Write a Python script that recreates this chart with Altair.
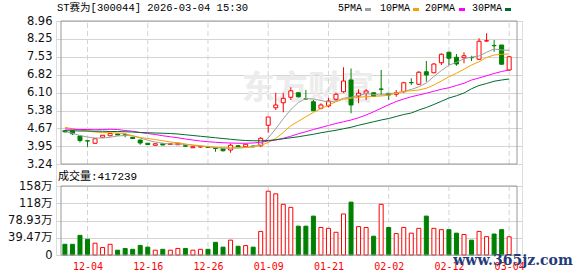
import altair as alt
import pandas as pd

# ---------------- data ----------------
dates = ["12-01", "12-02", "12-03", "12-04", "12-05", "12-08", "12-09", "12-10", "12-11", "12-12",
         "12-15", "12-16", "12-17", "12-18", "12-19", "12-22", "12-23", "12-24", "12-25", "12-26",
         "12-29", "12-30", "12-31", "01-05", "01-06", "01-07", "01-08", "01-09", "01-12", "01-13",
         "01-14", "01-15", "01-16", "01-19", "01-20", "01-21", "01-22", "01-23", "01-26", "01-27",
         "01-28", "01-29", "01-30", "02-02", "02-03", "02-04", "02-05", "02-06", "02-09", "02-10",
         "02-11", "02-12", "02-13", "02-24", "02-25", "02-26", "02-27", "03-02", "03-03", "03-04"]

opens = [4.57, 4.57, 4.36, 4.17, 4.07, 4.31, 4.37, 4.44, 4.41, 4.31,
         4.20, 4.07, 3.99, 4.05, 4.02, 4.01, 3.97, 3.89, 3.92, 3.92,
         3.89, 3.85, 3.80, 3.97, 3.93, 3.96, 3.97, 4.79, 5.49, 5.69,
         5.91, 6.09, 5.85, 5.73, 5.47, 5.56, 5.83, 6.13, 6.60, 5.96,
         6.07, 6.09, 6.24, 6.07, 6.03, 6.13, 6.50, 6.43, 6.93, 6.89,
         7.29, 7.71, 7.51, 7.49, 7.50, 7.43, 8.16, 7.98, 8.00, 7.00]
highs = [4.60, 4.58, 4.37, 4.17, 4.26, 4.40, 4.48, 4.45, 4.47, 4.32,
         4.21, 4.08, 4.06, 4.06, 4.06, 4.08, 3.98, 3.94, 3.95, 3.93,
         3.89, 3.86, 4.06, 3.99, 4.04, 3.97, 4.31, 5.13, 6.09, 6.09,
         6.31, 6.11, 6.20, 5.80, 5.67, 5.89, 6.09, 7.11, 7.06, 6.23,
         6.24, 6.10, 7.00, 6.08, 6.20, 6.53, 6.67, 6.96, 7.36, 7.27,
         7.67, 7.73, 7.64, 7.71, 7.57, 8.27, 8.47, 8.20, 8.00, 7.56]
lows = [4.50, 4.40, 4.10, 3.93, 4.05, 4.30, 4.35, 4.39, 4.31, 4.25,
        4.01, 4.00, 3.97, 3.99, 4.00, 4.00, 3.93, 3.88, 3.90, 3.88,
        3.73, 3.74, 3.69, 3.91, 3.92, 3.92, 3.92, 4.49, 5.40, 5.31,
        5.80, 5.90, 5.82, 5.37, 5.43, 5.51, 5.78, 6.09, 5.27, 5.67,
        5.80, 5.92, 6.00, 5.80, 5.93, 6.09, 6.40, 6.40, 6.53, 6.87,
        7.20, 7.20, 7.17, 7.27, 7.36, 7.40, 8.13, 7.73, 7.23, 6.97]
closes = [4.53, 4.45, 4.18, 4.16, 4.25, 4.39, 4.46, 4.40, 4.39, 4.26,
          4.08, 4.02, 4.05, 4.00, 4.05, 4.07, 3.95, 3.93, 3.93, 3.90,
          3.86, 3.77, 3.99, 3.94, 4.03, 3.93, 4.27, 5.12, 5.60, 5.87,
          6.17, 5.93, 5.84, 5.37, 5.60, 5.76, 6.03, 6.56, 5.60, 6.07,
          6.16, 5.95, 6.23, 6.00, 6.09, 6.49, 6.49, 6.91, 6.80, 7.24,
          7.63, 7.47, 7.24, 7.57, 7.49, 8.15, 8.17, 7.97, 7.23, 7.53]

# volume in 万
volumes = [24.5, 24.5, 45, 36, 27, 17, 24.5, 11, 15, 13,
           22, 18, 11, 13, 11, 15, 15, 11, 13, 13,
           29, 18, 34, 20, 21.5, 18, 54, 146, 140, 116,
           109, 66, 66, 89, 63, 61, 52, 94, 121, 65,
           63, 43, 116, 63, 49, 63, 50, 61, 89, 61,
           58, 58, 50, 47, 34, 54, 42, 48, 58, 41.72]
vol_dir = ["down", "down", "down", "down", "up", "up", "up", "down", "down", "down",
           "down", "down", "up", "down", "up", "up", "down", "up", "up", "down",
           "down", "down", "up", "down", "up", "down", "up", "up", "up", "up",
           "up", "down", "down", "down", "up", "up", "up", "up", "down", "up",
           "up", "down", "up", "down", "up", "up", "up", "up", "down", "up",
           "up", "down", "down", "up", "down", "up", "up", "down", "down", "up"]

ma5 = [4.53, 4.47, 4.38, 4.32, 4.28, 4.28, 4.31, 4.36, 4.38, 4.37,
       4.28, 4.19, 4.12, 4.07, 4.04, 4.04, 4.02, 3.99, 3.96, 3.93,
       3.90, 3.87, 3.87, 3.88, 3.90, 3.93, 4.04, 4.28, 4.65, 5.05,
       5.42, 5.70, 5.86, 5.84, 5.78, 5.72, 5.76, 5.87, 5.91, 5.98,
       6.06, 6.02, 6.00, 6.05, 6.08, 6.15, 6.22, 6.33, 6.48, 6.74,
       6.98, 7.19, 7.31, 7.45, 7.52, 7.56, 7.71, 7.84, 7.80, 7.79]
ma10 = [4.71, 4.65, 4.60, 4.56, 4.52, 4.50, 4.49, 4.48, 4.45, 4.37,
        4.30, 4.26, 4.22, 4.17, 4.12, 4.09, 4.04, 4.00, 3.97, 3.94,
        3.91, 3.89, 3.89, 3.89, 3.90, 3.93, 3.98, 4.10, 4.26, 4.50,
        4.77, 4.95, 5.13, 5.30, 5.46, 5.60, 5.73, 5.83, 5.87, 5.91,
        5.93, 5.95, 5.96, 5.99, 6.08, 6.14, 6.17, 6.20, 6.27, 6.40,
        6.56, 6.73, 6.87, 7.03, 7.20, 7.33, 7.50, 7.60, 7.63, 7.64]
ma20 = [4.64, 4.63, 4.62, 4.62, 4.61, 4.62, 4.63, 4.62, 4.58, 4.55,
        4.50, 4.46, 4.42, 4.37, 4.33, 4.29, 4.24, 4.20, 4.16, 4.13,
        4.11, 4.09, 4.08, 4.07, 4.07, 4.08, 4.11, 4.16, 4.20, 4.27,
        4.35, 4.45, 4.53, 4.62, 4.70, 4.78, 4.86, 4.93, 5.00, 5.09,
        5.20, 5.33, 5.47, 5.61, 5.74, 5.84, 5.93, 6.00, 6.07, 6.15,
        6.23, 6.29, 6.38, 6.47, 6.60, 6.68, 6.77, 6.86, 6.94, 7.00]
ma30 = [4.57, 4.57, 4.56, 4.56, 4.55, 4.55, 4.54, 4.54, 4.53, 4.52,
        4.50, 4.49, 4.48, 4.47, 4.46, 4.44, 4.41, 4.38, 4.35, 4.32,
        4.29, 4.26, 4.23, 4.20, 4.18, 4.17, 4.17, 4.18, 4.21, 4.25,
        4.29, 4.33, 4.38, 4.43, 4.49, 4.54, 4.59, 4.65, 4.71, 4.79,
        4.86, 4.93, 5.00, 5.06, 5.14, 5.22, 5.28, 5.40, 5.50, 5.62,
        5.75, 5.88, 5.97, 6.08, 6.25, 6.38, 6.46, 6.55, 6.60, 6.64]

ma_names = ["5PMA", "10PMA", "20PMA", "30PMA"]
ma_colors = ["#a0a0a0", "#f5a300", "#ff00ff", "#006b2e"]

tick_idx = [3, 11, 19, 27, 35, 43, 51, 59]
tick_labels = ["12-04", "12-16", "12-26", "01-09", "01-21", "02-02", "02-12", "03-04"]
price_ticks = [3.24, 3.95, 4.67, 5.38, 6.10, 6.82, 7.53, 8.25, 8.96]
vol_ticks = [0, 39.47, 78.93, 118.4, 157.9]
vol_tick_labels = ["0", "39.47万", "78.93万", "118万", "158万"]

title_text = "ST赛为[300044] 2026-03-04 15:30"
vol_caption = "成交量:417239"

# ---------------- layout / style ----------------
W, H = 466, 234
P_RANGE = [143, 0]
V_RANGE = [234, 165]
x_dom = [-0.52, 60.04]
p_dom = [price_ticks[0], price_ticks[-1]]
v_dom = [vol_ticks[0], vol_ticks[-1]]
RED, GREEN = "#ff0000", "#008000"
GRID = "#d4d4d4"
FRAME = "#9a9a9a"
MONO = "Liberation Mono, Noto Sans CJK SC"
AXF = "DejaVu Sans, Noto Sans CJK SC"

n = len(dates)
df = pd.DataFrame({"i": list(range(n)), "date": dates, "open": opens, "high": highs,
                   "low": lows, "close": closes, "vol": volumes, "vdir": vol_dir})
df["dir"] = ["up" if c >= o else "down" for o, c in zip(opens, closes)]

ma_long = pd.DataFrame({
    "i": list(range(n)) * 4,
    "value": ma5 + ma10 + ma20 + ma30,
    "series": sum([[m] * n for m in ma_names], []),
})

def label_expr(vals, labs):
    expr = "''"
    for v, l in reversed(list(zip(vals, labs))):
        expr = f"abs(datum.value - {v}) < 0.01 ? '{l}' : ({expr})"
    return expr

xscale = alt.Scale(domain=x_dom, nice=False, zero=False)
xaxis = alt.Axis(values=tick_idx, labelExpr=label_expr(tick_idx, tick_labels), title=None,
                 domain=False, ticks=False, grid=False, labelColor=RED, labelFont="DejaVu Sans Mono",
                 labelFontSize=10, labelPadding=6, labelBaseline="top", labelFlush=False)

pscale = alt.Scale(domain=p_dom, range=P_RANGE, nice=False, zero=False)
paxis = alt.Axis(values=price_ticks, format=".2f", title=None, orient="left", domain=False,
                 ticks=False, grid=True, gridColor=GRID, gridWidth=1, labelFont=AXF,
                 labelFontSize=11.5, labelColor="#111", labelPadding=4)

vscale = alt.Scale(domain=v_dom, range=V_RANGE, nice=False, zero=False)
vaxis = alt.Axis(values=vol_ticks, labelExpr=label_expr(vol_ticks, vol_tick_labels), title=None,
                 orient="left", domain=False, ticks=False, grid=True, gridColor=GRID, gridWidth=1,
                 labelFont=AXF, labelFontSize=11.5, labelColor="#111", labelPadding=4)

def X(field="i"):
    return alt.X(f"{field}:Q", scale=xscale, axis=xaxis)

def PY(field):
    return alt.Y(f"{field}:Q", scale=pscale, axis=paxis)

def VY(field):
    return alt.Y(f"{field}:Q", scale=vscale, axis=vaxis)

dir_stroke = alt.Scale(domain=["up", "down"], range=[RED, GREEN])
dir_fill = alt.Scale(domain=["up", "down"], range=["#ffffff", GREEN])

# ---------------- frames & vertical dashed rules ----------------
frame_df = pd.DataFrame({"x0": [x_dom[0]], "x1": [x_dom[1]], "p0": [p_dom[0]], "p1": [p_dom[1]],
                         "v0": [v_dom[0]], "v1": [v_dom[1]]})
vline_df = pd.DataFrame({"i": tick_idx, "p0": p_dom[0], "p1": p_dom[1], "v0": v_dom[0], "v1": v_dom[1]})

p_vlines = alt.Chart(vline_df).mark_rule(color=GRID, strokeDash=[5, 3], strokeWidth=1).encode(
    x=X(), y=PY("p0"), y2="p1:Q")
v_vlines = alt.Chart(vline_df).mark_rule(color=GRID, strokeDash=[5, 3], strokeWidth=1).encode(
    x=X(), y=VY("v0"), y2="v1:Q")

p_frame = alt.Chart(frame_df).mark_rect(fillOpacity=0, stroke=FRAME, strokeWidth=1).encode(
    x=X("x0"), x2="x1:Q", y=PY("p0"), y2="p1:Q")
v_frame = alt.Chart(frame_df).mark_rect(fillOpacity=0, stroke=FRAME, strokeWidth=1).encode(
    x=X("x0"), x2="x1:Q", y=VY("v0"), y2="v1:Q")

# ---------------- price marks ----------------
base = alt.Chart(df)
wicks = base.mark_rule(strokeWidth=1).encode(
    x=X(), y=PY("low"), y2="high:Q",
    stroke=alt.Stroke("dir:N", scale=dir_stroke, legend=None))
bodies = base.mark_bar(size=4, strokeWidth=1).encode(
    x=X(), y=PY("open"), y2="close:Q",
    fill=alt.Fill("dir:N", scale=dir_fill, legend=None),
    stroke=alt.Stroke("dir:N", scale=dir_stroke, legend=None))
ma_lines = alt.Chart(ma_long).mark_line(strokeWidth=1).encode(
    x=X(), y=PY("value"),
    color=alt.Color("series:N", scale=alt.Scale(domain=ma_names, range=ma_colors), legend=None),
    detail="series:N")

watermark = alt.Chart(pd.DataFrame({"t": ["东方财富"]})).mark_text(
    x=252, y=68, fontSize=33, fontWeight="bold", font="Noto Sans CJK SC", color="#ececec",
    align="center", baseline="middle").encode(text="t:N")

price_layer = alt.layer(p_vlines, wicks, bodies, ma_lines, p_frame)

# ---------------- volume marks ----------------
vbars = base.mark_bar(size=4, strokeWidth=1).encode(
    x=X(), y=VY("vol"),
    fill=alt.Fill("vdir:N", scale=dir_fill, legend=None),
    stroke=alt.Stroke("vdir:N", scale=dir_stroke, legend=None))
vol_layer = alt.layer(v_vlines, vbars, v_frame)

# ---------------- texts ----------------
one = pd.DataFrame({"t": [title_text], "c": [vol_caption]})
title = alt.Chart(one).mark_text(x=1, y=-13, align="left", baseline="middle", font=MONO,
                                 fontSize=10.5, color="#000").encode(text="t:N")
caption = alt.Chart(one).mark_text(x=2, y=156, align="left", baseline="middle", font=MONO,
                                   fontSize=11, color="#000").encode(text="c:N")

legend_x = [282, 324, 369, 416]
swatch_x = [309, 357, 403, 449]
legend_layers = []
for name, col, lx, sx in zip(ma_names, ma_colors, legend_x, swatch_x):
    ldf = pd.DataFrame({"t": [name]})
    legend_layers.append(alt.Chart(ldf).mark_text(x=lx, y=-13, align="left", baseline="middle",
                                                  font=MONO, fontSize=10, color="#000").encode(text="t:N"))
    legend_layers.append(alt.Chart(ldf).mark_rect(color=col).encode(
        x=alt.value(sx), x2=alt.value(sx + 6), y=alt.value(-13), y2=alt.value(-10)))

site = alt.Chart(pd.DataFrame({"t": ["www.365jz.com"]})).mark_text(
    x=457, y=240, align="center", baseline="middle", font="DejaVu Serif", fontWeight="bold",
    fontSize=14, color="#1f3c7a").encode(text="t:N")

chart = alt.layer(
    watermark, price_layer, vol_layer, title, caption, *legend_layers, site
).resolve_scale(y="independent").properties(
    width=W, height=H,
    autosize=alt.AutoSizeParams(type="none"),
    padding={"left": 56, "top": 21, "right": 56, "bottom": 21},
).configure_view(stroke=None).configure(background="#ffffff")

chart.save("out.html", embed_options={"renderer": "svg", "actions": False})
